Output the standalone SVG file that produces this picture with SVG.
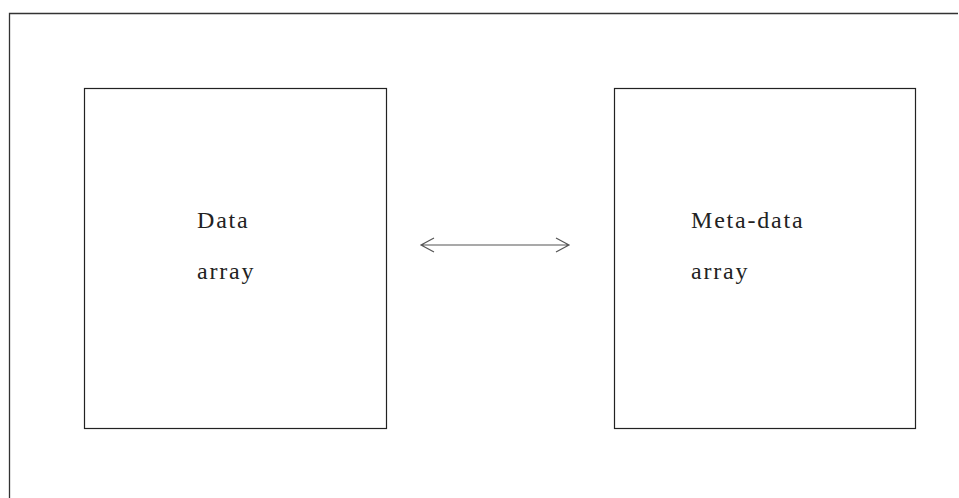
<svg xmlns="http://www.w3.org/2000/svg" width="959" height="498" viewBox="0 0 959 498">
<style>
.frame{fill:none;stroke:#333;stroke-width:1.3}
.box{fill:none;stroke:#222;stroke-width:1.2}
.lbl{font-family:"Liberation Serif","Times New Roman",serif;font-size:24px;letter-spacing:1.8px;fill:#222}
.conn{fill:none;stroke:#555;stroke-width:1.2}
</style>
<rect width="959" height="498" fill="#fff"/>
<path class="frame" d="M958,13.5 H9.5 V498"/>
<g id="data-array">
<rect class="box" x="84.5" y="88.5" width="302" height="340"/>
<text class="lbl" x="197" y="228">Data</text>
<text class="lbl" x="197" y="279">array</text>
</g>
<g id="metadata-array">
<rect class="box" x="614.5" y="88.5" width="301" height="340"/>
<text class="lbl" x="691" y="228">Meta-data</text>
<text class="lbl" x="691" y="279">array</text>
</g>
<g id="connectors">
<path class="conn" d="M421,245 H569 M434,238 L421,245 L434,252 M556,238 L569,245 L556,252"/>
</g>
</svg>
